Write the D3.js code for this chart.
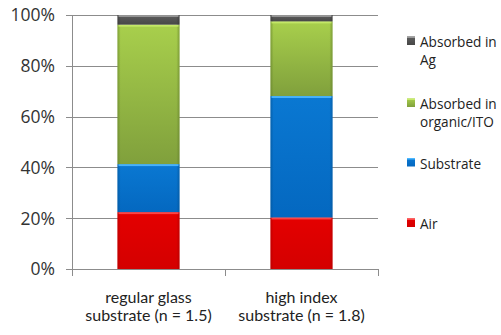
<!DOCTYPE html>
<html>
<head>
<meta charset="utf-8">
<script src="https://cdn.jsdelivr.net/npm/d3@7"></script>
<style>
  html, body { margin: 0; padding: 0; background: #fff; }
  svg { display: block; font-family: "Open Sans", Lato, sans-serif; }
</style>
</head>
<body>
<svg id="chart" width="501" height="335"></svg>
<script>
// Light out-coupling breakdown for two substrate types (percent of total)
const categories = [
  ["regular glass", "substrate (n = 1.5)"],
  ["high index", "substrate (n = 1.8)"]
];
const seriesNames = ["Air", "Substrate", "Absorbed in organic/ITO", "Absorbed in Ag"];
const air        = [22.4, 20.3];
const substrate  = [18.9, 47.8];
const organicITO = [54.9, 29.4];
const silver     = [3.8, 2.5];
const yTicks = [0, 20, 40, 60, 80, 100];
const legendLines = [["Absorbed in", "Ag"], ["Absorbed in", "organic/ITO"], ["Substrate"], ["Air"]];

const seriesValues = [air, substrate, organicITO, silver];
const palette = [
  { top: "#ff4a4a", a: "#e40000", b: "#d40000", edge: "#a80000" },
  { top: "#4cb8ff", a: "#0a78d2", b: "#0468c0", edge: "#03508f" },
  { top: "#c6ea6a", a: "#a8cf4c", b: "#80a03c", edge: "#5f7a2a" },
  { top: "#9a9a9a", a: "#5e5e5e", b: "#474747", edge: "#333333" }
];

const svg = d3.select("#chart");
const margin = { left: 72, right: 123, top: 15, bottom: 66 };
const W = 501, H = 335;

const x = d3.scaleBand()
  .domain(categories.map((c, i) => i))
  .range([margin.left, W - margin.right])
  .paddingInner(0.595)
  .paddingOuter(0.2975);
const y = d3.scaleLinear().domain([0, 100]).range([H - margin.bottom, margin.top]);

// gradients per series
const defs = svg.append("defs");
palette.forEach((p, i) => {
  const g = defs.append("linearGradient").attr("id", "grad" + i)
    .attr("x1", 0).attr("y1", 0).attr("x2", 0).attr("y2", 1);
  g.append("stop").attr("offset", 0).attr("stop-color", p.a);
  g.append("stop").attr("offset", 1).attr("stop-color", p.b);
  const h = defs.append("linearGradient").attr("id", "side" + i)
    .attr("x1", 0).attr("y1", 0).attr("x2", 1).attr("y2", 0);
  h.append("stop").attr("offset", 0).attr("stop-color", p.edge).attr("stop-opacity", 0.55);
  h.append("stop").attr("offset", 0.05).attr("stop-color", p.edge).attr("stop-opacity", 0);
  h.append("stop").attr("offset", 0.95).attr("stop-color", p.edge).attr("stop-opacity", 0);
  h.append("stop").attr("offset", 1).attr("stop-color", p.edge).attr("stop-opacity", 0.55);
});

// gridlines
const gridColor = "#8c8c8c";
svg.append("g").selectAll("line").data(yTicks).join("line")
  .attr("x1", margin.left - 6).attr("x2", W - margin.right)
  .attr("y1", d => Math.round(y(d)) + 0.5).attr("y2", d => Math.round(y(d)) + 0.5)
  .attr("stroke", gridColor).attr("stroke-width", 1);

// y axis line
svg.append("line")
  .attr("x1", margin.left + 0.5).attr("x2", margin.left + 0.5)
  .attr("y1", y(100)).attr("y2", y(0))
  .attr("stroke", gridColor);

// x axis category boundary ticks
const bounds = [0, 1, 2].map(i => margin.left + i * x.step());
svg.append("g").selectAll("line").data(bounds).join("line")
  .attr("x1", d => Math.round(d) + 0.5).attr("x2", d => Math.round(d) + 0.5)
  .attr("y1", y(0)).attr("y2", y(0) + 7)
  .attr("stroke", gridColor);

// y tick labels
svg.append("g").selectAll("text").data(yTicks).join("text")
  .attr("x", 55).attr("y", d => y(d))
  .attr("dy", "0.36em")
  .attr("text-anchor", "end")
  .attr("font-size", 17.5)
  .attr("fill", "#333")
  .text(d => d + "%");

// stacked segments
const stacked = [];
categories.forEach((c, ci) => {
  let base = 0;
  seriesValues.forEach((vals, si) => {
    stacked.push({ ci, si, y0: base, y1: base + vals[ci] });
    base += vals[ci];
  });
});

const seg = svg.append("g").selectAll("g").data(stacked).join("g");
seg.append("rect")
  .attr("x", d => x(d.ci)).attr("width", x.bandwidth())
  .attr("y", d => y(d.y1)).attr("height", d => y(d.y0) - y(d.y1))
  .attr("fill", d => `url(#grad${d.si})`);
seg.append("rect")
  .attr("x", d => x(d.ci)).attr("width", x.bandwidth())
  .attr("y", d => y(d.y1)).attr("height", d => y(d.y0) - y(d.y1))
  .attr("fill", d => `url(#side${d.si})`);
seg.append("rect")
  .attr("x", d => x(d.ci) + 1).attr("width", x.bandwidth() - 2)
  .attr("y", d => y(d.y1)).attr("height", 2)
  .attr("fill", d => palette[d.si].top).attr("opacity", 0.9);

// category labels, two lines each
const catLines = categories.flatMap((lines, i) => lines.map((t, j) => ({ t, i, j })));
svg.append("g").selectAll("text").data(catLines).join("text")
  .attr("x", d => x(d.i) + x.bandwidth() / 2)
  .attr("y", d => 302.5 + d.j * 18.5)
  .attr("text-anchor", "middle")
  .attr("font-family", "Lato, sans-serif")
  .attr("font-size", 16)
  .attr("fill", "#222")
  .text(d => d.t);

// legend (top entry = top of stack)
const legendOrder = [3, 2, 1, 0];
const legendY = [41, 103, 162.5, 223];
const leg = svg.append("g").selectAll("g").data(legendOrder).join("g")
  .attr("transform", (d, i) => `translate(407,${legendY[i]})`);
leg.append("rect")
  .attr("x", 0).attr("y", -4.5).attr("width", 8).attr("height", 8.5)
  .attr("fill", d => `url(#grad${d})`);
leg.append("rect")
  .attr("x", 0).attr("y", -4.5).attr("width", 8).attr("height", 1.5)
  .attr("fill", d => palette[d].top);
const lt = leg.append("text")
  .attr("font-size", 13.6)
  .attr("fill", "#222");
lt.selectAll("tspan").data((d, i) => legendLines[i]).join("tspan")
  .attr("x", 13)
  .attr("y", (t, j) => 6 + j * 17.5)
  .text(t => t);
</script>
</body>
</html>
